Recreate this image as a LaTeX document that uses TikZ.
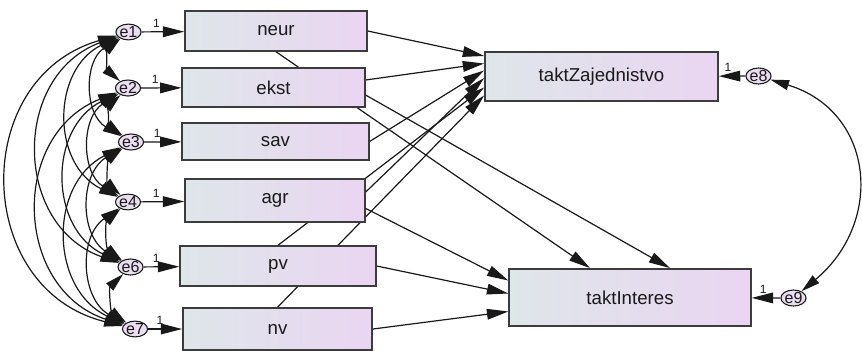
\documentclass[tikz,border=0pt]{standalone}
\usepackage{fontspec}
\setmainfont{Liberation Sans}
\usetikzlibrary{arrows.meta}
\usetikzlibrary{shapes.geometric}
\usetikzlibrary{calc}
\usetikzlibrary{backgrounds}

\definecolor{boxleft}{RGB}{222,230,233}
\definecolor{boxright}{RGB}{234,213,242}
\definecolor{errfill}{RGB}{234,222,240}
\definecolor{ink}{RGB}{25,25,25}

\tikzset{
  obs/.style={rectangle, draw=ink!85, line width=1.1pt, left color=boxleft, right color=boxright,
              font=\fontsize{14}{16}\selectfont, text=ink, inner sep=0pt},
  err/.style={ellipse, draw=ink, line width=0.8pt, fill=errfill,
              font=\fontsize{12}{13}\selectfont, text=ink, inner sep=0pt},
  reg/.style={draw=ink, line width=0.9pt, -{Triangle[length=16pt,width=8pt]}},
  cov/.style={draw=ink, line width=0.9pt, {Triangle[length=14pt,width=7.5pt]}-{Triangle[length=14pt,width=7.5pt]}},
  one/.style={font=\fontsize{9}{10}\selectfont, text=ink, inner sep=1pt},
}

\begin{document}
\begin{tikzpicture}[x=0.75pt, y=-0.75pt]

    \useasboundingbox (0,0) rectangle (862,350);

    % measured variables
    \path   (276,31)    node (neur) [obs, minimum width=136.5pt, minimum height=30pt] {neur}
            (273.5,87.5) node (ekst) [obs, minimum width=137pt, minimum height=29pt] {ekst}
            (275.5,141.5) node (sav) [obs, minimum width=140pt, minimum height=28pt] {sav}
            (275,200.5) node (agr)  [obs, minimum width=135pt, minimum height=32pt] {agr}
            (278,266)   node (pv)   [obs, minimum width=147pt, minimum height=30pt] {pv}
            (277.5,329) node (nv)   [obs, minimum width=142pt, minimum height=31.5pt] {nv};

    % outcomes
    \path   (601.5,76.5) node (taktZ) [obs, minimum width=175pt, minimum height=37pt] {taktZajednistvo}
            (630,297.5)  node (taktI) [obs, minimum width=181.5pt, minimum height=43pt] {taktInteres};

    % error terms
    \path   (128.5,32) node (e1) [err] {e1}
            (128,88)   node (e2) [err] {e2}
            (131,142)  node (e3) [err] {e3}
            (128,202)  node (e4) [err] {e4}
            (130.5,267) node (e6) [err] {e6}
            (135,329)  node (e7) [err] {e7}
            (758.5,76) node (e8) [err] {e8}
            (793.5,298) node (e9) [err] {e9};

    \begin{pgfonlayer}{background}
        % error loadings
        \draw[reg] (e1) -- node[one, pos=0.35, above=2pt] {1} (neur);
        \draw[reg] (e2) -- node[one, pos=0.35, above=2pt] {1} (ekst);
        \draw[reg] (e3) -- node[one, pos=0.35, above=2pt] {1} (sav);
        \draw[reg] (e4) -- node[one, pos=0.35, above=2pt] {1} (agr);
        \draw[reg] (e6) -- node[one, pos=0.35, above=2pt] {1} (pv);
        \draw[reg] (e7) -- node[one, pos=0.35, above=2pt] {1} (nv);
        \draw[reg] (e8) -- node[one, pos=0.66, above=2pt] {1} (taktZ);
        \draw[reg] (e9) -- node[one, pos=0.6, above=2pt] {1} (taktI);

        % paths to taktZajednistvo
        \draw[reg] (neur.east) -- ($(taktZ.west)+(0,-20.5)$);
        \draw[reg] ($(ekst.east)+(0,-7.5)$) -- ($(taktZ.west)+(0,-13)$);
        \draw[reg] (sav.east) -- ($(taktZ.west)+(0,-6)$);
        \draw[reg] ($(agr.east)+(0,-8.5)$) -- ($(taktZ.west)+(0,1.5)$);
        \draw[reg] (pv.north) -- ($(taktZ.west)+(0,11)$);
        \draw[reg] (nv.north) -- ($(taktZ.west)+(0,19)$);

        % paths to taktInteres
        \draw[reg] (neur.south) -- ($(taktI.north)+(-40,0)$);
        \draw[reg] ($(ekst.east)+(0,7.5)$) -- ($(taktI.north)+(40,0)$);
        \draw[reg] ($(agr.east)+(0,8)$) -- ($(taktI.west)+(0,-17)$);
        \draw[reg] (pv.east) -- ($(taktI.west)+(0,-4)$);
        \draw[reg] (nv.east) -- ($(taktI.west)+(0,14)$);

        % covariances between the errors
        \foreach \a/\b/\ang in {e1/e2/50, e2/e3/50, e3/e4/50, e4/e6/50, e6/e7/50,
                                e1/e3/58, e2/e4/58, e3/e6/58, e4/e7/58,
                                e1/e4/64, e2/e6/64, e3/e7/64,
                                e1/e6/70, e2/e7/70,
                                e1/e7/75}{
            \pgfmathsetmacro\loose{0.8514/(cos(\ang/2))^2}
            \draw[cov] (\a) to[bend right=\ang, looseness=\loose] (\b);
        }
        \draw[cov] (e8) to[out=-17, in=40, looseness=1.3] (e9);
    \end{pgfonlayer}

\end{tikzpicture}
\end{document}
